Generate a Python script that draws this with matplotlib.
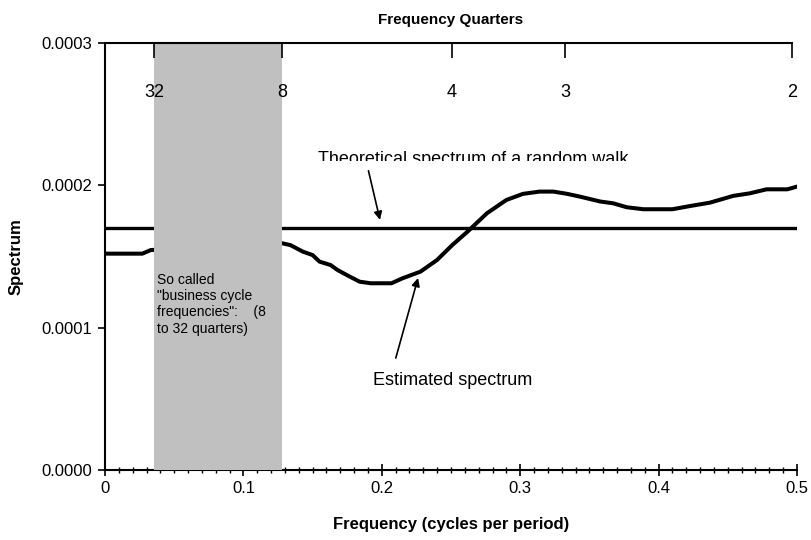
import numpy as np
import matplotlib
matplotlib.use('Agg')
import matplotlib.pyplot as plt
from matplotlib.patches import Rectangle

plt.rcParams['font.family'] = ['Liberation Sans', 'DejaVu Sans']

# estimated spectrum (values in units of 1e-4)
freq = [0.0, 0.01, 0.02, 0.027, 0.033, 0.04, 0.05, 0.06, 0.07, 0.08, 0.09, 0.10,
        0.11, 0.12, 0.128, 0.134, 0.143, 0.15, 0.155, 0.163, 0.168, 0.177, 0.184,
        0.192, 0.207, 0.215, 0.228, 0.24, 0.251, 0.262, 0.276, 0.29, 0.302, 0.314,
        0.324, 0.334, 0.343, 0.358, 0.367, 0.377, 0.389, 0.41, 0.423, 0.437, 0.454,
        0.466, 0.478, 0.493, 0.5]
spec = [1.52, 1.52, 1.52, 1.52, 1.545, 1.55, 1.56, 1.57, 1.58, 1.59, 1.60, 1.60,
        1.60, 1.60, 1.593, 1.58, 1.534, 1.51, 1.464, 1.44, 1.405, 1.358, 1.323,
        1.312, 1.312, 1.347, 1.394, 1.476, 1.581, 1.675, 1.804, 1.897, 1.94, 1.956,
        1.956, 1.94, 1.921, 1.886, 1.874, 1.846, 1.832, 1.832, 1.855, 1.878, 1.926,
        1.944, 1.972, 1.972, 1.991]
spec = np.array(spec) * 1e-4

random_walk = 1.70e-4

quarters = [32, 8, 4, 3, 2]
quarter_labels = ['32', '8', '4', '3', '2']

fig = plt.figure(figsize=(8.12, 5.4), dpi=100)
ax = fig.add_axes([0.1293, 0.1296, 0.8522, 0.7908])

ax.plot(freq, spec, color='black', lw=2.9, zorder=2)
ax.axhline(random_walk, color='black', lw=2.4, zorder=2)

ax.set_xlim(0, 0.5)
ax.set_ylim(0, 0.0003)
ax.set_xticks([0, 0.1, 0.2, 0.3, 0.4, 0.5])
ax.set_xticklabels(['0', '0.1', '0.2', '0.3', '0.4', '0.5'])
ax.set_xticks(np.arange(0, 0.5, 0.01), minor=True)
ax.set_yticks([0, 0.0001, 0.0002, 0.0003])
ax.set_yticklabels(['0.0000', '0.0001', '0.0002', '0.0003'])
ax.tick_params(axis='x', which='major', direction='inout', length=8, width=1.2, labelsize=12, pad=4)
ax.tick_params(axis='x', which='minor', direction='inout', length=5, width=1.0)
ax.tick_params(axis='y', direction='out', length=5, width=1.2, labelsize=12, pad=4)
for s in ['left', 'bottom']:
    ax.spines[s].set_linewidth(1.5)
ax.spines['right'].set_visible(False)
ax.spines['top'].set_visible(False)

ax.set_xlabel('Frequency (cycles per period)', fontsize=12, fontweight='bold')
ax.xaxis.set_label_coords(0.5, -0.11)
ax.set_ylabel('Spectrum', fontsize=12, fontweight='bold')
ax.yaxis.set_label_coords(-0.117, 0.5)
ax.set_title('Frequency Quarters', fontsize=11, fontweight='bold', pad=14)

# top axis in quarters, slightly shifted like in the original
ax2 = ax.twiny()
ax2.set_xlim(-0.0051, 0.5037)
ax2.axvspan(1 / 32, 1 / 8, color='#c0c0c0', lw=0, zorder=1)
ax2.set_xticks([1 / q for q in quarters])
ax2.set_xticklabels(quarter_labels)
ax2.tick_params(axis='x', direction='in', length=11, width=1.2, labelsize=13, pad=-42)
ax2.spines['top'].set_linewidth(1.5)
ax2.spines['top'].set_bounds(-0.0037, 0.5)
ax2.spines['right'].set_visible(False)
ax2.spines['left'].set_visible(False)
ax2.spines['bottom'].set_visible(False)
ax.set_zorder(0)
ax2.set_zorder(1)

ax2.text(0.0376, 1.384e-4, 'So called\n"business cycle\nfrequencies":    (8\nto 32 quarters)',
         fontsize=10, va='top', ha='left', linespacing=1.2, zorder=4,
         transform=ax.transData)

t1 = ax2.annotate('Theoretical spectrum of a random walk', xy=(0.1987, 1.757e-4), xytext=(0.154, 2.15e-4),
                  xycoords=ax.transData, textcoords=ax.transData,
                  fontsize=13, ha='left', va='baseline', zorder=4,
                  arrowprops=dict(arrowstyle='-|>', color='black', lw=1.2, mutation_scale=12, shrinkA=0, shrinkB=0,
                                  relpos=(0.16, 0)))
# the label is cut off at the bottom in the original
t1.set_clip_path(Rectangle((0, 0.723), 1, 0.3, transform=ax.transAxes))
ax2.annotate('Estimated spectrum', xy=(0.2262, 1.349e-4), xytext=(0.1936, 0.632e-4),
             xycoords=ax.transData, textcoords=ax.transData,
             fontsize=13, ha='left', va='center', zorder=4,
             arrowprops=dict(arrowstyle='-|>', color='black', lw=1.2, mutation_scale=12, shrinkA=8, shrinkB=0,
                             relpos=(0.12, 1)))

plt.savefig('out.png', dpi=100)
